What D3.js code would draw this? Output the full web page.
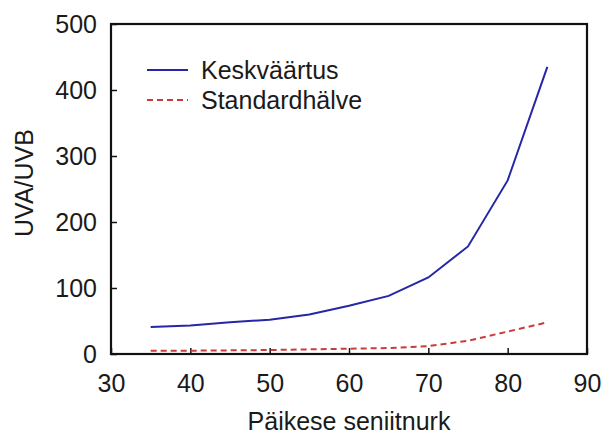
<!DOCTYPE html>
<html lang="et">
<head>
<meta charset="UTF-8">
<script src="https://d3js.org/d3.v7.min.js"></script>
<style>
  body { margin: 0; background: #fff; }
  text { font-family: Arial, "Liberation Sans", sans-serif; fill: #1a1a1a; }
</style>
</head>
<body>
<div id="chart"></div>
<script>
// zenith angle (degrees)
var angles = [35, 40, 45, 50, 55, 60, 65, 70, 75, 80, 85];
// UVA/UVB mean and standard deviation
var meanValues = [41, 43, 48, 52, 60, 73, 88, 116, 163, 263, 435];
var sdValues = [5, 5, 5.5, 6, 7, 8, 9, 12, 20, 34, 48];
var xTicks = [30, 40, 50, 60, 70, 80, 90];
var yTicks = [0, 100, 200, 300, 400, 500];
var seriesNames = ["Keskväärtus", "Standardhälve"];

var W = 602, H = 436;
var margin = { top: 24, right: 15, bottom: 82, left: 111 };
var w = W - margin.left - margin.right,
    h = H - margin.top - margin.bottom;

var svg = d3.select("#chart").append("svg")
    .attr("width", W).attr("height", H);
var g = svg.append("g")
    .attr("transform", "translate(" + margin.left + "," + margin.top + ")");

var x = d3.scaleLinear().domain([30, 90]).range([0, w]);
var y = d3.scaleLinear().domain([0, 500]).range([h, 0]);

// axes with inward ticks
var xAxis = g.append("g")
    .attr("transform", "translate(0," + h + ")")
    .call(d3.axisBottom(x).tickValues(xTicks).tickSizeInner(-6).tickSizeOuter(0).tickPadding(20));
var yAxis = g.append("g")
    .call(d3.axisLeft(y).tickValues(yTicks).tickSizeInner(-6).tickSizeOuter(0).tickPadding(14));
[xAxis, yAxis].forEach(function (a) {
    a.select(".domain").remove();
    a.selectAll("line").attr("stroke", "#111").attr("stroke-width", 1.5);
    a.selectAll("text").style("font-size", "25px").attr("fill", "#1a1a1a");
});
xAxis.selectAll("text").attr("dy", "0.71em");

// frame
g.append("rect")
    .attr("width", w).attr("height", h)
    .attr("fill", "none").attr("stroke", "#111").attr("stroke-width", 2.2);

var line = d3.line()
    .x(function (d) { return x(d[0]); })
    .y(function (d) { return y(d[1]); });

g.append("path")
    .datum(d3.zip(angles, sdValues))
    .attr("d", line)
    .attr("fill", "none").attr("stroke", "#cc3b3b")
    .attr("stroke-width", 2).attr("stroke-dasharray", "6,4");

g.append("path")
    .datum(d3.zip(angles, meanValues))
    .attr("d", line)
    .attr("fill", "none").attr("stroke", "#2626a6")
    .attr("stroke-width", 2);

// legend
var legend = svg.append("g").attr("transform", "translate(147,70)");
var styles = [{ c: "#2626a6", dash: null }, { c: "#cc3b3b", dash: "6,4" }];
seriesNames.forEach(function (name, i) {
    var row = legend.append("g").attr("transform", "translate(0," + i * 30 + ")");
    row.append("line")
        .attr("x1", 0).attr("x2", 41).attr("y1", 0).attr("y2", 0)
        .attr("stroke", styles[i].c).attr("stroke-width", 2)
        .attr("stroke-dasharray", styles[i].dash);
    row.append("text")
        .attr("x", 54).attr("y", 9)
        .style("font-size", "25px")
        .text(name);
});

// axis titles
svg.append("text")
    .attr("x", margin.left + w / 2).attr("y", 430)
    .attr("text-anchor", "middle")
    .style("font-size", "25px")
    .text("Päikese seniitnurk");

svg.append("text")
    .attr("transform", "translate(33," + (margin.top + h / 2 - 6) + ") rotate(-90)")
    .attr("text-anchor", "middle")
    .style("font-size", "25px")
    .text("UVA/UVB");
</script>
</body>
</html>
